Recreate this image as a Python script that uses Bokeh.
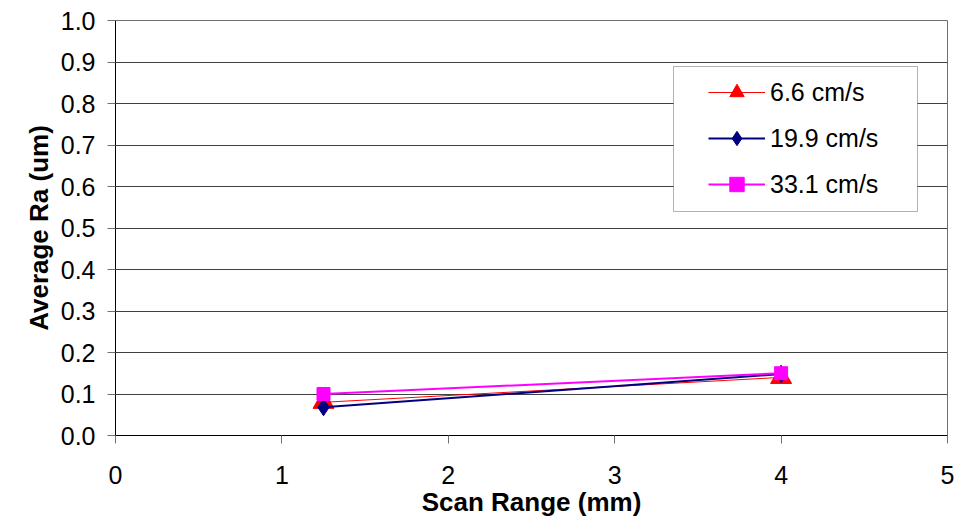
from bokeh.plotting import figure
from bokeh.models import Legend, LegendItem, BoxAnnotation, FixedTicker, NumeralTickFormatter, Range1d
from bokeh.embed import file_html
from bokeh.resources import INLINE

scan_range = [1.25, 4.0]
series_names = ["6.6 cm/s", "19.9 cm/s", "33.1 cm/s"]
ra_6_6 = [0.08, 0.14]
ra_19_9 = [0.068, 0.148]
ra_33_1 = [0.10, 0.15]
x_ticks = [0, 1, 2, 3, 4, 5]
y_ticks = [0.0, 0.1, 0.2, 0.3, 0.4, 0.5, 0.6, 0.7, 0.8, 0.9, 1.0]

FONT = "Liberation Sans"

p = figure(width=957, height=519, output_backend="svg", toolbar_location=None,
           x_range=Range1d(0, 5), y_range=Range1d(0, 1),
           min_border_left=115, min_border_right=10, min_border_top=20, min_border_bottom=84)
p.background_fill_color = "white"
p.border_fill_color = "white"
p.outline_line_color = "#707070"
p.outline_line_width = 1

p.xgrid.visible = False
p.ygrid.ticker = FixedTicker(ticks=y_ticks)
p.ygrid.grid_line_color = "#404040"
p.ygrid.grid_line_width = 1

p.xaxis.ticker = FixedTicker(ticks=x_ticks)
p.yaxis.ticker = FixedTicker(ticks=y_ticks)
p.yaxis.formatter = NumeralTickFormatter(format="0.0")
for ax in (p.xaxis, p.yaxis):
    ax.axis_line_color = "black"
    ax.axis_line_width = 1
    ax.major_tick_line_color = "#707070"
    ax.major_tick_in = 0
    ax.major_tick_out = 8
    ax.minor_tick_line_color = None
    ax.major_label_text_font = FONT
    ax.major_label_text_font_size = "25px"
    ax.major_label_text_color = "black"
    ax.axis_label_text_font = FONT
    ax.axis_label_text_font_size = "26px"
    ax.axis_label_text_font_style = "bold"
    ax.axis_label_text_color = "black"
p.xaxis.axis_label = "Scan Range (mm)"
p.yaxis.axis_label = "Average Ra (um)"
p.xaxis.major_label_standoff = 22
p.yaxis.major_label_standoff = 12
p.xaxis.axis_label_standoff = 0
p.yaxis.axis_label_standoff = 4

l1 = p.line(scan_range, ra_6_6, line_color="#ff0000", line_width=1)
m1 = p.scatter(scan_range, ra_6_6, marker="triangle", size=21, fill_color="#ff0000", line_color="#ff0000")
l2 = p.line(scan_range, ra_19_9, line_color="#000080", line_width=2)
m2 = p.scatter(scan_range, ra_19_9, marker="diamond", size=17, fill_color="#000080", line_color="#000080")
l3 = p.line(scan_range, ra_33_1, line_color="#ff00ff", line_width=2)
m3 = p.scatter(scan_range, ra_33_1, marker="square", size=13, fill_color="#ff00ff", line_color="#ff00ff")

box = BoxAnnotation(left=558, right=802, bottom=224, top=369,
                    left_units="screen", right_units="screen", bottom_units="screen", top_units="screen",
                    fill_color="white", fill_alpha=1, line_color="black", line_width=1)
p.add_layout(box)

legend = Legend(items=[LegendItem(label=series_names[0], renderers=[l1, m1]),
                       LegendItem(label=series_names[1], renderers=[l2, m2]),
                       LegendItem(label=series_names[2], renderers=[l3, m3])],
                location=(583, 223), padding=10, spacing=10,
                glyph_width=57, glyph_height=36, label_height=36, label_standoff=5,
                label_text_font=FONT, label_text_font_size="25px", label_text_color="black",
                border_line_alpha=0, background_fill_alpha=0, margin=0)
p.add_layout(legend, "center")

open("out.html", "w").write(file_html(p, INLINE))
